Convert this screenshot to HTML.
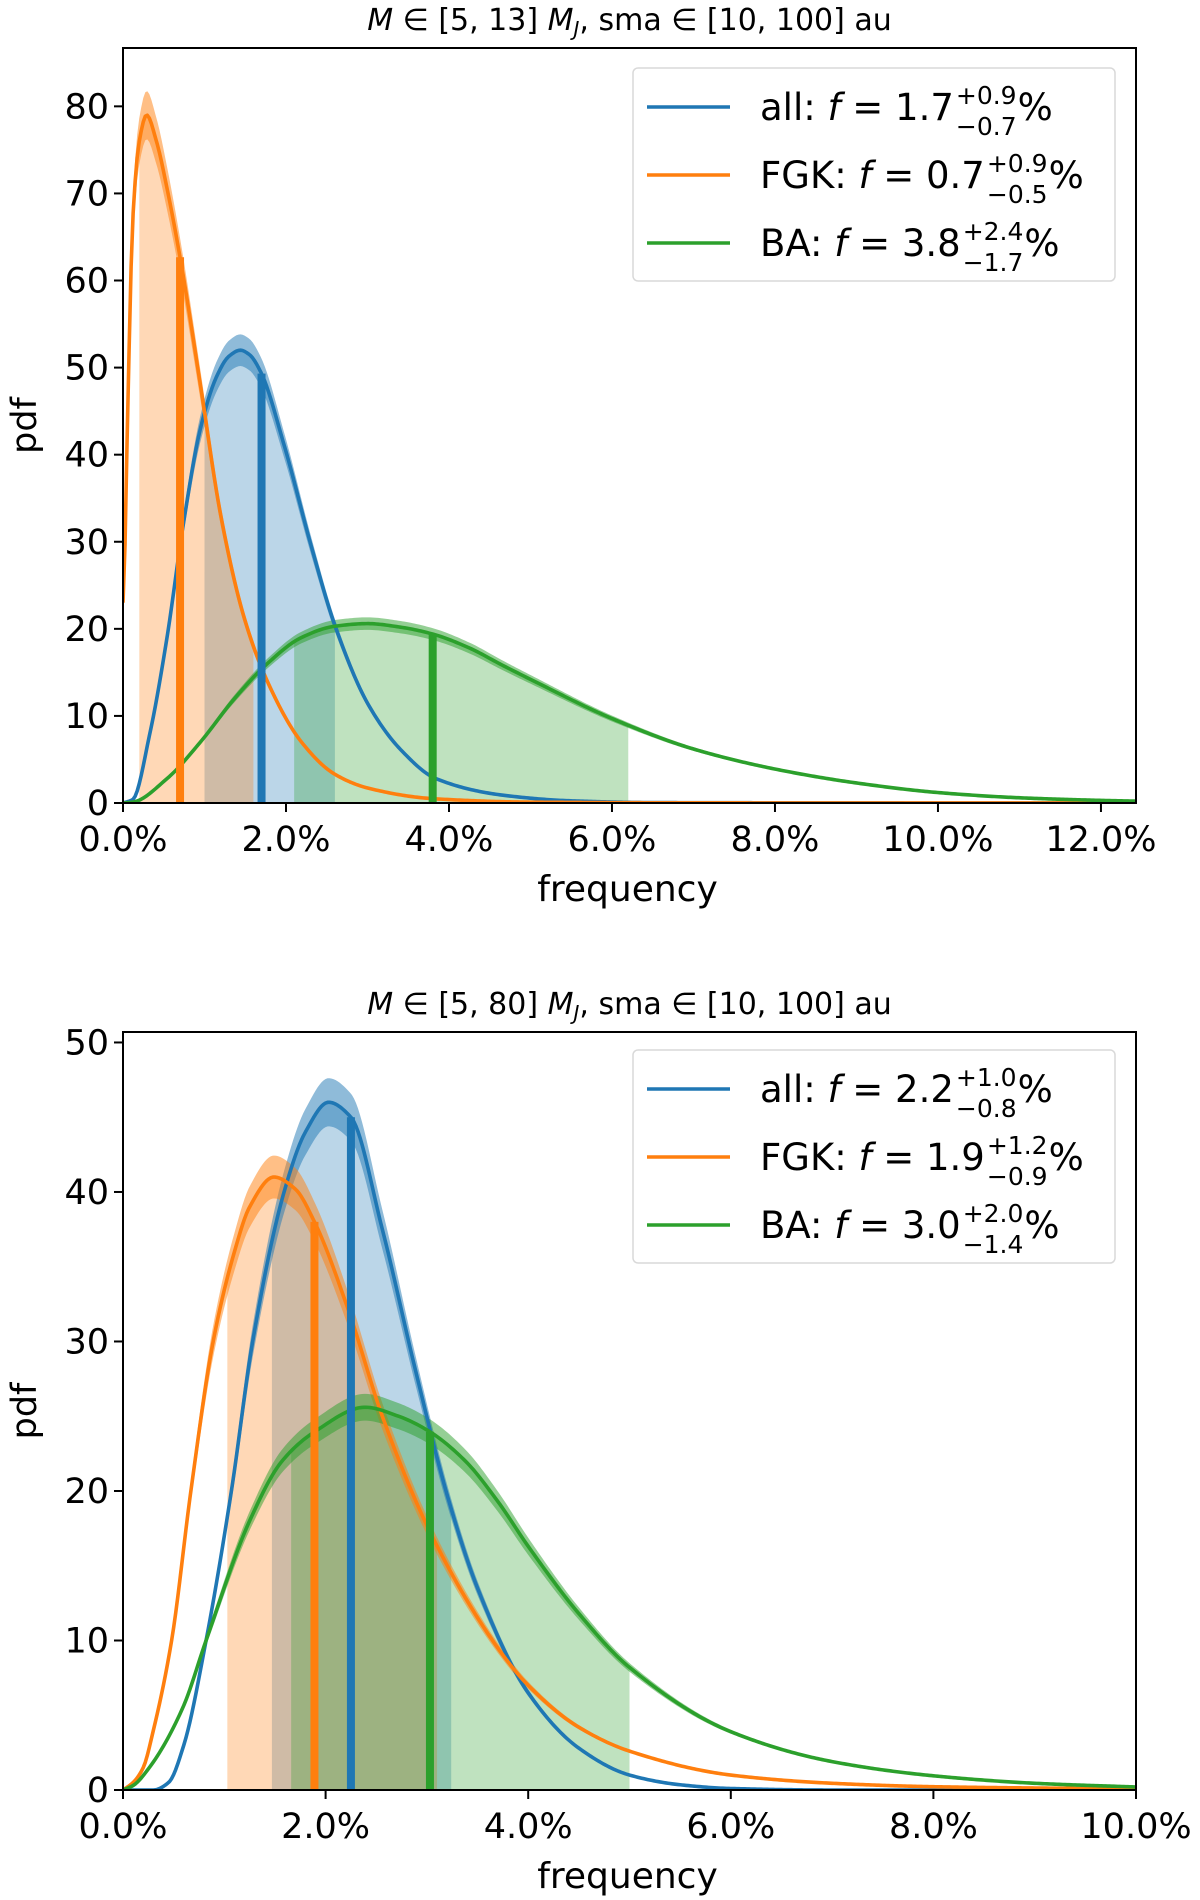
<!DOCTYPE html>
<html><head><meta charset="utf-8">
<style>
html,body{margin:0;padding:0;background:#fff;}
svg{display:block;font-family:"DejaVu Sans","Liberation Sans",sans-serif;}
</style></head>
<body>
<svg id="fig" width="1200" height="1900" viewBox="0 0 1200 1900" xmlns="http://www.w3.org/2000/svg"></svg>
<script>
// ---------- Top panel data (x in %, y pdf) ----------
const topAllX = [0,0.12,0.33,0.54,0.74,0.95,1.15,1.3,1.44,1.55,1.69,1.98,2.31,2.6,3.01,3.42,3.84,4.66,5.5,6.5,12.5];
const topAllY = [0,0.4,8,19,32,43,49,51.3,52,51.5,49.5,41,29.5,20.4,11.3,6,2.8,0.9,0.25,0.05,0];
const topFgkX = [0,0.02,0.06,0.12,0.2,0.29,0.41,0.54,0.72,0.95,1.2,1.48,1.77,2.19,2.6,3.01,3.8,5,7,12.5];
const topFgkY = [23,28,46,67,76,79,76,70.6,61.6,48,33,21.5,14,7,3.3,1.7,0.5,0.1,0.02,0];
const topBaX = [0,0.12,0.54,0.95,1.36,1.77,2.19,2.6,3.0,3.4,3.8,4.25,4.66,5,6,7,8,9,10,11,12,12.5];
const topBaY = [0,0.1,2.8,7,11.9,16,19,20.3,20.6,20.2,19.4,17.8,15.8,14.2,9.7,6.2,3.9,2.3,1.2,0.6,0.3,0.2];
const topMedian = [1.7,0.7,3.8];
const topLo = [1.0,0.2,2.1];
const topHi = [2.6,1.6,6.2];
const topTicksX = [0,2,4,6,8,10,12];
const topTickLabelsX = ["0.0%","2.0%","4.0%","6.0%","8.0%","10.0%","12.0%"];
const topTicksY = [0,10,20,30,40,50,60,70,80];

// ---------- Bottom panel data ----------
const botAllX = [0,0.3,0.45,0.6,0.82,1.07,1.28,1.59,1.8,2.03,2.25,2.56,2.89,3.21,3.5,4,4.5,5,5.5,6,7,10];
const botAllY = [0,0,0.5,3,10,20,30,40,44,46,45,37.5,28,19.5,13.5,6.5,2.8,1,0.35,0.1,0,0];
const botFgkX = [0,0.1,0.2,0.3,0.48,0.67,0.89,1.1,1.25,1.49,1.7,1.89,2.23,2.56,3.05,3.7,4,4.5,5,6,7,8,10];
const botFgkY = [0,0.5,1.5,4,10,20,30,36,39,41,40.2,38,32,25,17,9.5,7,4.2,2.6,1.0,0.45,0.22,0.07];
const botBaX = [0,0.1,0.26,0.59,0.82,1.25,1.57,1.9,2.39,2.72,3.02,3.38,3.7,4,4.5,5,6,7,8,9,10];
const botBaY = [0,0.3,1.5,5.5,10,18,22,24,25.6,25,24,22,19.3,16.3,11.8,8.2,3.9,1.9,0.95,0.45,0.2];
const botMedian = [2.25,1.89,3.03];
const botLo = [1.47,1.03,1.66];
const botHi = [3.24,3.1,5.0];
const botTicksX = [0,2,4,6,8,10];
const botTickLabelsX = ["0.0%","2.0%","4.0%","6.0%","8.0%","10.0%"];
const botTicksY = [0,10,20,30,40,50];

const NS = "http://www.w3.org/2000/svg";
const svg = document.getElementById("fig");
const COLORS = ["#1f77b4","#ff7f0e","#2ca02c"];
const NAMES = ["all","fgk","ba"];

function mk(tag, attrs, parent){
  const e = document.createElementNS(NS, tag);
  for (const k in attrs) e.setAttribute(k, attrs[k]);
  (parent||svg).appendChild(e);
  return e;
}
function interp(xs, ys, x){
  const n = xs.length;
  if (x <= xs[0]) return ys[0];
  if (x >= xs[n-1]) return ys[n-1];
  const d = [], m = [];
  for (let i=0;i<n-1;i++) d.push((ys[i+1]-ys[i])/(xs[i+1]-xs[i]));
  m.push(d[0]);
  for (let i=1;i<n-1;i++){
    if (d[i-1]*d[i] <= 0) m.push(0);
    else { const w1=2*(xs[i+1]-xs[i])+(xs[i]-xs[i-1]), w2=(xs[i+1]-xs[i])+2*(xs[i]-xs[i-1]);
      m.push((w1+w2)/(w1/d[i-1]+w2/d[i])); }
  }
  m.push(d[n-2]);
  let i=0; while (x > xs[i+1]) i++;
  const h=xs[i+1]-xs[i], t=(x-xs[i])/h, t2=t*t, t3=t2*t;
  const v=(2*t3-3*t2+1)*ys[i]+(t3-2*t2+t)*h*m[i]+(-2*t3+3*t2)*ys[i+1]+(t3-t2)*h*m[i+1];
  return Math.max(v,0);
}

function panel(cfg){
  const {L,R,T,B,xmax,ymax,series,med,lo,hi,ticksX,tickLabelsX,ticksY,title,legendY,prefix,labels} = cfg;
  const g = mk("g",{});
  
  
  const sx = v => L + v/xmax*(R-L);
  const sy = v => B - v/ymax*(B-T);
  const clipId = prefix+"clip";
  const cp = mk("clipPath",{id:clipId},g);
  mk("rect",{x:L,y:T,width:R-L,height:B-T},cp);
  const plot = mk("g",{"clip-path":"url(#"+clipId+")"},g);
  
  
  const N=500;
  series.forEach((s,k)=>{
    let d="M"+sx(lo[k])+","+sy(0);
    for(let i=0;i<=120;i++){const x=lo[k]+(hi[k]-lo[k])*i/120; d+=" L"+sx(x).toFixed(2)+","+sy(interp(s[0],s[1],x)).toFixed(2);}
    d+=" L"+sx(hi[k])+","+sy(0)+" Z";
    const p=mk("path",{d:d,fill:COLORS[k],"fill-opacity":0.3,stroke:"none"},plot);
    
    
  });
  series.forEach((s,k)=>{
    let up="",dn=[];
    for(let i=0;i<=N;i++){
      const x=xmax*i/N; const y=interp(s[0],s[1],x);
      const w=y*0.035;
      up+=(i?" L":"M")+sx(x).toFixed(2)+","+sy(y+w).toFixed(2);
      dn.push(sx(x).toFixed(2)+","+sy(Math.max(y-w,0)).toFixed(2));
    }
    const d=up+" L"+dn.reverse().join(" L")+" Z";
    const p=mk("path",{d:d,fill:COLORS[k],"fill-opacity":0.5,stroke:"none"},plot);
    
    
  });
  series.forEach((s,k)=>{
    let d="";
    for(let i=0;i<=N;i++){
      const x=xmax*i/N;
      d+=(i?" L":"M")+sx(x).toFixed(2)+","+sy(interp(s[0],s[1],x)).toFixed(2);
    }
    const p=mk("path",{d:d,fill:"none",stroke:COLORS[k],"stroke-width":3.6,"stroke-linejoin":"round"},plot);
    
    
  });
  series.forEach((s,k)=>{
    const yv=sy(interp(s[0],s[1],med[k]));
    const r=mk("rect",{x:sx(med[k])-4,y:yv,width:8,height:B-yv,fill:COLORS[k]},plot);
    
    
  });
  const fr=mk("rect",{x:L,y:T,width:R-L,height:B-T,fill:"none",stroke:"#000","stroke-width":2},g);
  
  
  ticksX.forEach((v,i)=>{
    mk("line",{x1:sx(v),x2:sx(v),y1:B,y2:B+9,stroke:"#000","stroke-width":2},g);
    const t=mk("text",{x:sx(v),y:B+48,"text-anchor":"middle","font-size":35},g);
    t.textContent=tickLabelsX[i];
    
    
  });
  ticksY.forEach(v=>{
    mk("line",{x1:L-9,x2:L,y1:sy(v),y2:sy(v),stroke:"#000","stroke-width":2},g);
    const t=mk("text",{x:L-14,y:sy(v)+12,"text-anchor":"end","font-size":35},g);
    t.textContent=String(v);
    
    
  });
  const xl=mk("text",{x:(L+R)/2-2,y:B+98,"text-anchor":"middle","font-size":36},g);
  xl.textContent="frequency";
  
  
  const yl=mk("text",{x:0,y:0,"text-anchor":"middle","font-size":35,transform:"translate(36,"+((T+B)/2)+") rotate(-90)"},g);
  yl.textContent="pdf";
  
  
  const tt=mk("text",{x:(L+R)/2,y:T-18,"text-anchor":"middle","font-size":30},g);
  tt.innerHTML=title;
  
  
  const lg=mk("g",{},g);
  
  
  mk("rect",{x:633,y:legendY,width:482,height:213,rx:5,fill:"#fff","fill-opacity":0.8,stroke:"#d9d9d9","stroke-width":1.5},lg);
  labels.forEach((lab,k)=>{
    const cy=legendY+39+k*68;
    const ln=mk("line",{x1:647,x2:730,y1:cy,y2:cy,stroke:COLORS[k],"stroke-width":3.6},lg);
    
    
    const t=mk("text",{x:760,y:cy+13,"font-size":37},lg);
    t.innerHTML=lab[0]+': <tspan font-style="italic">f</tspan> = '+lab[1]+
      '<tspan class="sup" font-size="25" dy="-16" dx="2">+'+lab[2]+'</tspan><tspan class="sub" font-size="25" dy="31">\u2212'+lab[3]+'</tspan><tspan class="pct" dy="-15">%</tspan>';
    
    
    const sup=t.querySelector('.sup'), sub=t.querySelector('.sub'), pct=t.querySelector('.pct');
    const ws=sup.getComputedTextLength(), wb=sub.getComputedTextLength();
    sub.setAttribute('dx', (-ws).toFixed(1));
    pct.setAttribute('dx', (Math.max(ws-wb,0)+1).toFixed(1));
  });
}

panel({L:123,R:1136,T:48,B:803,xmax:12.43,ymax:86.7,
  series:[[topAllX,topAllY],[topFgkX,topFgkY],[topBaX,topBaY]],
  med:topMedian,lo:topLo,hi:topHi,ticksX:topTicksX,tickLabelsX:topTickLabelsX,ticksY:topTicksY,
  title:'<tspan font-style="italic">M</tspan> \u2208 [5, 13] <tspan font-style="italic">M</tspan><tspan font-style="italic" font-size="20" dy="6">J</tspan><tspan dy="-6">, sma \u2208 [10, 100] au</tspan>',
  legendY:68,prefix:"top",
  labels:[["all","1.7","0.9","0.7"],["FGK","0.7","0.9","0.5"],["BA","3.8","2.4","1.7"]]});

panel({L:123,R:1136,T:1032,B:1790,xmax:10,ymax:50.7,
  series:[[botAllX,botAllY],[botFgkX,botFgkY],[botBaX,botBaY]],
  med:botMedian,lo:botLo,hi:botHi,ticksX:botTicksX,tickLabelsX:botTickLabelsX,ticksY:botTicksY,
  title:'<tspan font-style="italic">M</tspan> \u2208 [5, 80] <tspan font-style="italic">M</tspan><tspan font-style="italic" font-size="20" dy="6">J</tspan><tspan dy="-6">, sma \u2208 [10, 100] au</tspan>',
  legendY:1050,prefix:"bottom",
  labels:[["all","2.2","1.0","0.8"],["FGK","1.9","1.2","0.9"],["BA","3.0","2.0","1.4"]]});
</script>
</body></html>
